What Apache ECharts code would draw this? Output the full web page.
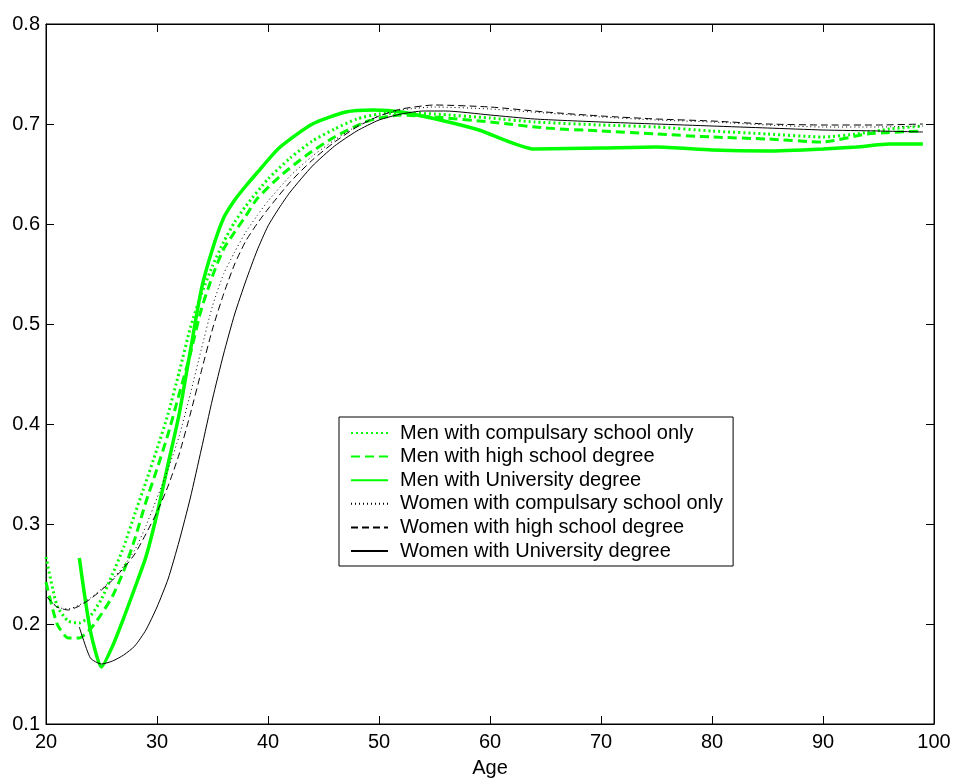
<!DOCTYPE html>
<html><head><meta charset="utf-8">
<script src="https://cdn.jsdelivr.net/npm/echarts@6/dist/echarts.min.js"></script>
<style>html,body{margin:0;padding:0;background:#fff}#c{width:955px;height:780px}</style>
</head><body><div id="c"></div>
<script>
// ---- data ----
const seriesNames = [
  'Men with compulsary school only',
  'Men with high school degree',
  'Men with University degree',
  'Women with compulsary school only',
  'Women with high school degree',
  'Women with University degree'
];

const menCompAges = [20,21,22,23,24,25,26,27,28,29,30,31,32,33,34,35,36,37,38,40,42,44,46,48,50,52,55,60,64,70,75,80,85,90,93,96,99];
const menCompVals = [0.267,0.218,0.203,0.201,0.208,0.225,0.250,0.277,0.310,0.342,0.375,0.410,0.452,0.496,0.530,0.558,0.582,0.602,0.618,0.645,0.666,0.683,0.695,0.705,0.710,0.711,0.710,0.706,0.702,0.699,0.697,0.693,0.690,0.687,0.690,0.695,0.698];

const menHsAges = [20,21,22,23,24,25,26,27,28,29,30,31,32,33,34,35,36,37,38,39,41,43.5,46,49,52,55,60,65,70,75,80,85,90,94,99];
const menHsVals = [0.242,0.200,0.186,0.186,0.195,0.210,0.228,0.253,0.285,0.322,0.355,0.390,0.430,0.470,0.515,0.548,0.575,0.592,0.608,0.625,0.647,0.669,0.687,0.703,0.709,0.707,0.702,0.696,0.693,0.690,0.687,0.685,0.682,0.690,0.693];

const menUniAges = [23,24,25,26,27,28,29,30,31,32,33,34,35,36,37,38,39,41,44,47,49.5,52,55.5,59,64,70,75,80,85,90,93,96,99];
const menUniVals = [0.266,0.193,0.157,0.178,0.206,0.236,0.267,0.310,0.360,0.410,0.473,0.535,0.575,0.606,0.624,0.638,0.651,0.676,0.700,0.712,0.714,0.712,0.704,0.694,0.675,0.676,0.677,0.674,0.673,0.675,0.677,0.680,0.680];

const womenCompAges = [20,21,22,23,24,25,26,27,28,29,30,31,32,33,34,35,36,37,38,39,40,42,44,46,48,50,52,55,60,65,70,75,80,85,90,95,99];
const womenCompVals = [0.228,0.217,0.215,0.219,0.226,0.235,0.245,0.258,0.274,0.298,0.326,0.355,0.388,0.430,0.475,0.518,0.550,0.572,0.592,0.608,0.623,0.648,0.668,0.684,0.698,0.708,0.714,0.717,0.715,0.711,0.707,0.704,0.702,0.699,0.697,0.697,0.698];

const womenHsAges = [20,21,22,23,24,25,26,27,28,29,30,31,32,33,34,35,36,37,38,39,40,42,44,46,48,50,52,55,60,65,70,75,80,85,90,95,99];
const womenHsVals = [0.228,0.217,0.214,0.218,0.225,0.234,0.244,0.256,0.270,0.290,0.312,0.338,0.370,0.410,0.453,0.495,0.530,0.560,0.583,0.600,0.615,0.642,0.664,0.682,0.697,0.708,0.715,0.719,0.717,0.712,0.708,0.705,0.703,0.700,0.699,0.699,0.700];

const womenUniAges = [23,24,25,26,27,28,29,30,31,32,33,34,35,36,37,38,39,40,41,42,44,46,48,50,52,54,56,60,64,70,75,80,85,90,95,99];
const womenUniVals = [0.197,0.166,0.160,0.163,0.169,0.178,0.194,0.217,0.245,0.283,0.326,0.375,0.425,0.470,0.510,0.543,0.573,0.598,0.616,0.632,0.658,0.678,0.693,0.704,0.710,0.713,0.713,0.709,0.705,0.702,0.700,0.698,0.696,0.694,0.693,0.692];

const xTickValues = [20,30,40,50,60,70,80,90,100];
const yTickValues = [0.1,0.2,0.3,0.4,0.5,0.6,0.7,0.8];

// ---- chart ----
function pairs(a, v) { return a.map((x, i) => [x, v[i]]); }
const FONT = 'Liberation Sans, Arial, Helvetica, sans-serif';
const GREEN = '#00ff00';

const chart = echarts.init(document.getElementById('c'));

const axisCommon = {
  axisLine: { show: true, onZero: false, lineStyle: { color: '#000', width: 1 } },
  axisTick: { show: true, inside: true, length: 8, lineStyle: { color: '#000', width: 1 } },
  splitLine: { show: false }
};

const styles = [
  { color: GREEN, width: 3, type: [2, 3] },
  { color: GREEN, width: 3, type: [9, 5] },
  { color: GREEN, width: 3.5, type: 'solid' },
  { color: '#000', width: 1, type: [1, 3] },
  { color: '#000', width: 1, type: [7, 4] },
  { color: '#000', width: 1, type: 'solid' }
];
const datasets = [
  pairs(menCompAges, menCompVals),
  pairs(menHsAges, menHsVals),
  pairs(menUniAges, menUniVals),
  pairs(womenCompAges, womenCompVals),
  pairs(womenHsAges, womenHsVals),
  pairs(womenUniAges, womenUniVals)
];

const option = {
  animation: false,
  backgroundColor: '#fff',
  textStyle: { fontFamily: FONT },
  grid: { left: 46, right: 21, top: 24, bottom: 56, show: true, borderColor: '#000', borderWidth: 1,
          containLabel: false, outerBoundsMode: 'none' },
  xAxis: [
    Object.assign({
      type: 'value', min: xTickValues[0], max: xTickValues[xTickValues.length - 1], interval: 10,
      position: 'bottom',
      axisLabel: { color: '#000', fontSize: 20, margin: 8, fontFamily: FONT },
      name: 'Age', nameLocation: 'middle', nameGap: 34,
      nameTextStyle: { color: '#000', fontSize: 20, fontFamily: FONT }
    }, axisCommon),
    Object.assign({
      type: 'value', min: xTickValues[0], max: xTickValues[xTickValues.length - 1], interval: 10,
      position: 'top', axisLabel: { show: false }
    }, axisCommon)
  ],
  yAxis: [
    Object.assign({
      type: 'value', min: yTickValues[0], max: yTickValues[yTickValues.length - 1], interval: 0.1,
      position: 'left',
      axisLabel: { color: '#000', fontSize: 20, margin: 6, fontFamily: FONT, formatter: v => v.toFixed(1) }
    }, axisCommon),
    Object.assign({
      type: 'value', min: yTickValues[0], max: yTickValues[yTickValues.length - 1], interval: 0.1,
      position: 'right', axisLabel: { show: false }
    }, axisCommon)
  ],
  legend: {
    orient: 'vertical', left: 339, top: 417,
    data: seriesNames,
    backgroundColor: '#fff', borderColor: '#000', borderWidth: 1,
    padding: [6, 10, 5, 11],
    itemWidth: 37, itemHeight: 20, itemGap: 3.6,
    itemStyle: { opacity: 0, borderWidth: 0 },
    textStyle: { color: '#000', fontSize: 20, fontFamily: FONT, padding: [0, 0, 0, 7] },
    selectedMode: false
  },
  series: seriesNames.map((n, i) => ({
    name: n, type: 'line', xAxisIndex: 0, yAxisIndex: 0,
    data: datasets[i], symbol: 'none', showSymbol: false,
    smooth: 0.2,
    lineStyle: styles[i], itemStyle: { color: styles[i].color },
    emphasis: { disabled: true }, silent: true
  }))
};
chart.setOption(option);
</script>
</body></html>
